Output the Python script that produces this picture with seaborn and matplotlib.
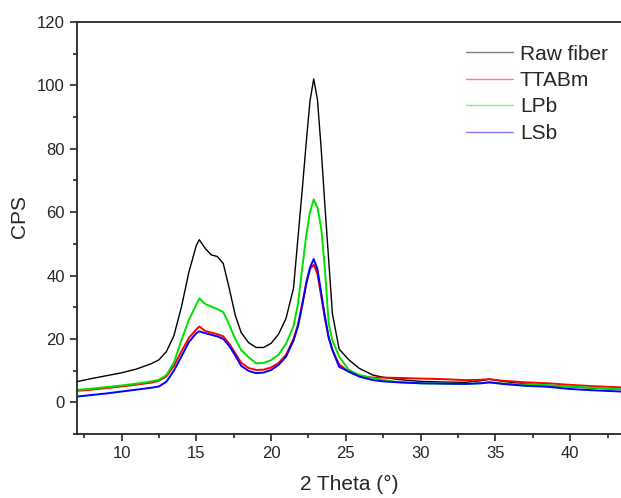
import pandas as pd
import matplotlib
matplotlib.use("Agg")
import matplotlib.pyplot as plt
from matplotlib.ticker import MultipleLocator
import seaborn as sns

# 2 Theta positions (deg)
two_theta = [7, 8, 9, 10, 11, 12, 12.5, 13, 13.5, 14, 14.5, 15, 15.2, 15.6, 16, 16.4,
             16.8, 17.2, 17.6, 18, 18.5, 19, 19.5, 20, 20.5, 21, 21.5, 21.8, 22.1, 22.35,
             22.6, 22.85, 23.1, 23.35, 23.6, 23.85, 24.1, 24.55, 25.2, 25.9, 26.8, 27.5,
             28.5, 30, 31.5, 33, 34, 34.6, 35.5, 37, 38.5, 40, 41.5, 43.4]

raw_fiber = [6.5, 7.5, 8.4, 9.3, 10.5, 12.2, 13.4, 16, 21, 30, 41, 49.5, 51.3, 48.5, 46.5, 46,
             43.8, 36, 27.5, 22, 18.8, 17.3, 17.3, 18.6, 21.5, 26.5, 36, 52, 68, 82,
             95, 102, 95.5, 80, 62, 45, 28, 16.8, 13.4, 10.7, 8.6, 7.9,
             7.2, 6.6, 6.4, 6.3, 6.8, 7.3, 6.6, 5.8, 5.3, 4.9, 4.5, 4.1]

ttabm = [3.6, 4.0, 4.5, 5.0, 5.6, 6.2, 6.8, 8.2, 11.5, 16, 20.3, 23, 23.9, 22.5, 22, 21.5,
         20.8, 18.5, 15.5, 12.5, 10.8, 10.2, 10.3, 11, 12.4, 15, 20, 24.5, 31.5, 37.5,
         42, 43.4, 40.5, 33.5, 26.5, 20.5, 16.5, 12, 9.6, 8.3, 7.8, 7.8,
         7.7, 7.5, 7.3, 7.0, 7.1, 7.3, 6.8, 6.3, 6.0, 5.5, 5.1, 4.7]

lpb = [3.9, 4.3, 4.8, 5.3, 5.9, 6.6, 7.1, 8.6, 12.5, 19.5, 26, 30.8, 32.8, 31, 30.2, 29.4,
       28.5, 24.5, 20, 16.5, 14.2, 12.3, 12.4, 13.3, 15, 18.5, 24, 31, 43, 52.5,
       60, 64, 61.5, 55, 42, 25, 19.5, 14.4, 10.2, 8.6, 7.6, 7.0,
       6.4, 6.0, 5.9, 5.8, 6.0, 6.3, 5.9, 5.6, 5.4, 5.0, 4.6, 4.1]

lsb = [1.8, 2.3, 2.8, 3.4, 4.0, 4.6, 5.0, 6.5, 10, 14.4, 19, 21.8, 22.4, 21.8, 21.3, 20.8,
       20, 17.8, 14.8, 11.5, 9.9, 9.2, 9.4, 10.2, 11.8, 14.4, 19.5, 24, 31, 37.5,
       42.5, 45.2, 42, 34.5, 27, 20.5, 16.5, 11.2, 9.7, 8.1, 7.0, 6.6,
       6.3, 6.0, 5.9, 5.8, 6.0, 6.3, 5.8, 5.2, 4.9, 4.2, 3.8, 3.4]

samples = ["Raw fiber", "TTABm", "LPb", "LSb"]
colors = ["#000000", "#ff0000", "#00e000", "#0000ff"]

df = pd.DataFrame({"2 Theta": two_theta, "Raw fiber": raw_fiber, "TTABm": ttabm,
                   "LPb": lpb, "LSb": lsb})
long_df = df.melt(id_vars="2 Theta", var_name="Sample", value_name="CPS")

sns.set_style("ticks")
plt.rcParams["font.family"] = ["Liberation Sans", "DejaVu Sans"]

fig = plt.figure(figsize=(6.21, 4.98), dpi=100)
ax = fig.add_axes([0.1235, 0.1285, 0.8765, 0.8275])

sns.lineplot(data=long_df, x="2 Theta", y="CPS", hue="Sample", hue_order=samples,
             palette=colors, linewidth=1.4, ax=ax)
# raw fiber trace is drawn thinner than the others
ax.lines[0].set_linewidth(1.0)

ax.set_xlim(7, 43.4)
ax.set_ylim(-10, 120)
ax.xaxis.set_major_locator(MultipleLocator(5))
ax.xaxis.set_minor_locator(MultipleLocator(2.5))
ax.yaxis.set_major_locator(MultipleLocator(20))
ax.yaxis.set_minor_locator(MultipleLocator(10))
ax.tick_params(which="major", direction="out", length=5, width=1.2, labelsize=12)
ax.tick_params(which="minor", direction="out", length=3, width=1.2)
ax.tick_params(top=False, right=False, which="both")

ax.spines["right"].set_visible(False)
for s in ["left", "bottom", "top"]:
    ax.spines[s].set_linewidth(1.3)

ax.set_xlabel("2 Theta (°)", fontsize=15, labelpad=10)
ax.set_ylabel("CPS", fontsize=15)
ax.yaxis.set_label_coords(-0.088, 0.527)

leg = ax.legend(frameon=False, fontsize=15, handlelength=2.27, handletextpad=0.32,
                labelspacing=0.36, borderpad=0, borderaxespad=0, loc="upper left",
                bbox_to_anchor=(466 / 621, 1 - 44.5 / 498),
                bbox_transform=fig.transFigure)
for line in leg.get_lines():
    line.set_linewidth(1.0)
    line.set_alpha(0.5)

fig.savefig("out.png", dpi=100)
